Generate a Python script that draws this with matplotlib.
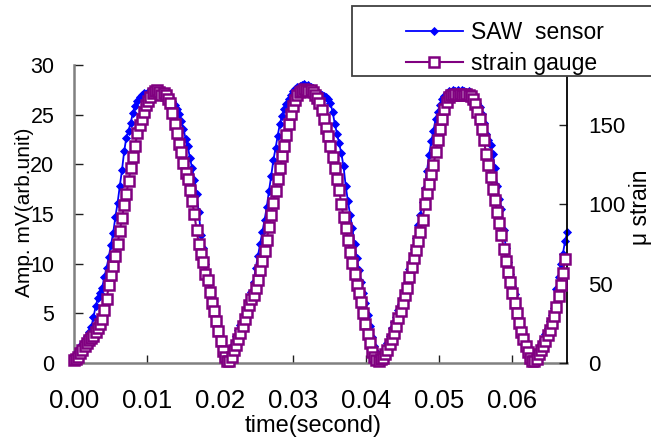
import numpy as np
import matplotlib
matplotlib.use("Agg")
import matplotlib.pyplot as plt
from matplotlib.patches import Rectangle
from matplotlib.ticker import FormatStrFormatter

plt.rcParams['font.family'] = ['Liberation Sans', 'DejaVu Sans']

# ---------------- data ----------------
dt = 0.0003      # s, sampling step of both series

saw_mv = [
    0.4, 0.8, 1.2, 1.6, 1.9, 2.3, 2.7, 3.1, 3.6, 4.6,
    5.7, 6.5, 7.0, 7.6, 8.7, 9.6, 10.7, 11.9, 13.1, 14.7,
    16.1, 17.8, 19.4, 21.3, 22.7, 23.4, 24.2, 25.2, 25.9, 26.4,
    26.8, 27.0, 27.2, 27.1, 27.3, 27.2, 27.4, 27.2, 27.3, 27.1,
    27.3, 27.2, 27.1, 26.9, 26.8, 26.4, 26.0, 25.6, 25.1, 24.4,
    23.6, 22.6, 21.8, 20.6, 19.6, 18.4, 17.0, 15.2, 12.9, 11.6,
    10.0, 8.5, 7.3, 6.4, 5.4, 4.4, 3.5, 2.6, 1.8, 1.2,
    0.8, 0.6, 1.1, 1.9, 2.7, 3.3, 3.8, 4.2, 4.6, 5.3,
    6.3, 7.1, 8.2, 9.6, 10.8, 12.0, 13.2, 14.4, 15.7, 17.3,
    18.8, 20.4, 21.6, 22.9, 24.1, 24.9, 25.6, 26.1, 26.6, 27.0,
    27.4, 27.6, 27.8, 27.9, 28.0, 28.1, 27.9, 28.0, 27.8, 27.7,
    27.5, 27.3, 27.2, 27.0, 26.9, 26.8, 26.6, 26.2, 25.3, 24.1,
    23.1, 22.1, 21.1, 19.8, 17.8, 16.3, 14.9, 13.6, 12.0, 10.6,
    9.4, 8.2, 7.0, 6.0, 4.8, 3.7, 2.6, 1.7, 1.1, 0.7,
    0.6, 0.9, 1.3, 2.0, 2.7, 3.5, 4.1, 4.6, 5.3, 5.9,
    6.6, 7.2, 8.2, 9.5, 10.4, 11.5, 12.6, 13.9, 14.9, 16.2,
    17.6, 19.3, 20.9, 22.3, 23.4, 24.6, 25.3, 26.0, 26.6, 26.9,
    27.2, 27.4, 27.3, 27.5, 27.4, 27.5, 27.3, 27.5, 27.4, 27.3,
    27.4, 27.1, 26.9, 26.6, 26.2, 25.8, 25.1, 24.2, 23.1, 22.4,
    21.9, 21.0, 19.6, 17.8, 16.5, 15.5, 13.4, 11.6, 10.2, 9.0,
    7.8, 6.9, 5.5, 4.5, 3.6, 2.9, 2.1, 1.6, 1.0, 0.6,
    0.5, 0.9, 1.3, 1.9, 2.4, 2.9, 3.5, 4.2, 4.8, 5.5,
    7.4, 8.7, 10.0, 11.0, 12.3, 13.2,
]

gauge_ustrain = [
    1.9, 2.5, 3.8, 6.3, 8.1, 10.7, 12.5, 14.4, 15.7, 16.9,
    19.4, 21.9, 24.4, 27.6, 33.2, 40.1, 48.9, 55.8, 61.4, 67.7,
    75.2, 83.3, 91.5, 99.6, 106.5, 114.7, 122.8, 129.7, 137.2, 144.8,
    150.4, 154.2, 158.5, 162.9, 165.4, 168.0, 170.5, 171.7, 172.3, 171.1,
    169.2, 170.5, 169.2, 166.7, 164.2, 157.9, 151.0, 144.8, 137.9, 132.9,
    126.0, 119.7, 115.9, 109.0, 102.1, 94.0, 84.0, 75.2, 68.9, 63.9,
    56.4, 52.6, 45.1, 37.6, 32.6, 26.3, 20.1, 13.8, 7.5, 3.8,
    1.3, 1.3, 3.8, 8.1, 11.3, 15.0, 18.8, 23.2, 27.6, 32.0,
    36.3, 40.1, 43.2, 47.6, 52.6, 58.9, 64.5, 70.8, 77.7, 85.9,
    93.4, 100.9, 108.4, 115.9, 122.8, 130.3, 137.2, 144.1, 151.0, 157.3,
    162.3, 166.1, 169.2, 171.1, 171.7, 173.0, 172.3, 171.7, 172.3, 171.1,
    169.2, 167.3, 164.2, 159.8, 154.2, 148.5, 142.9, 136.6, 129.7, 122.8,
    115.9, 109.0, 100.3, 92.1, 85.2, 77.7, 70.2, 63.3, 56.4, 49.5,
    43.9, 38.2, 31.3, 24.4, 18.2, 12.5, 6.9, 3.8, 1.9, 1.3,
    2.5, 3.1, 5.6, 8.1, 11.9, 15.0, 18.8, 23.2, 28.2, 32.6,
    37.6, 42.6, 47.6, 54.5, 60.8, 66.4, 71.4, 77.1, 82.7, 90.2,
    100.3, 107.2, 112.8, 119.1, 124.7, 132.9, 141.0, 147.9, 154.2, 160.4,
    164.8, 168.0, 169.2, 169.2, 169.8, 169.2, 169.8, 169.2, 169.2, 169.8,
    169.2, 168.6, 166.7, 163.6, 158.5, 154.2, 147.9, 140.4, 131.6, 124.7,
    117.2, 109.7, 102.8, 95.3, 88.4, 80.8, 72.1, 64.5, 57.7, 50.8,
    43.9, 37.6, 31.3, 25.1, 19.4, 15.0, 10.7, 6.9, 3.1, 1.3,
    1.3, 2.5, 5.6, 8.1, 10.7, 13.8, 17.5, 20.7, 25.1, 29.5,
    35.1, 42.0, 48.9, 57.0, 65.8,
]

x_ticks = [0.00, 0.01, 0.02, 0.03, 0.04, 0.05, 0.06]
left_ticks = [0, 5, 10, 15, 20, 25, 30]
right_ticks = [0, 50, 100, 150]
x_limits = (0.0, 0.0675)
left_limits = (0, 30)
right_limits = (0, 188)

series_names = ["SAW  sensor", "strain gauge"]
x_label = "time(second)"
left_label = "Amp. mV(arb.unit)"
right_label = "μ strain"

t_saw = np.arange(len(saw_mv)) * dt
t_gauge = np.arange(len(gauge_ustrain)) * dt

# ---------------- figure ----------------
W, H = 651, 437
fig = plt.figure(figsize=(W / 100, H / 100), dpi=100)
fig.patch.set_facecolor("white")

x0, x1 = 73.7, 567.3
y_top, y_bot = 65.0, 363.0
ax = fig.add_axes([x0 / W, 1 - y_bot / H, (x1 - x0) / W, (y_bot - y_top) / H])
ax2 = ax.twinx()

blue = "#0000FF"
purple = "#800080"

l1, = ax.plot(t_saw, saw_mv, color=blue, lw=1.3, marker="D", ms=4.2,
              mfc=blue, mec=blue, mew=0.6, clip_on=False, zorder=3)
l2, = ax2.plot(t_gauge, gauge_ustrain, color=purple, lw=1.5, marker="s",
               ms=7.8, mfc="white", mec=purple, mew=1.8, clip_on=False,
               zorder=3)

ax.set_xlim(*x_limits)
ax.set_ylim(*left_limits)
ax2.set_ylim(*right_limits)

ax.set_xticks(x_ticks)
ax.xaxis.set_major_formatter(FormatStrFormatter("%.2f"))
ax.set_yticks(left_ticks)
ax2.set_yticks(right_ticks)

# spines
ax.spines["top"].set_visible(False)
ax2.spines["top"].set_visible(False)
ax.spines["right"].set_visible(False)
ax2.spines["left"].set_visible(False)
ax2.spines["bottom"].set_visible(False)
ax.spines["left"].set_color("#808080")
ax.spines["left"].set_linewidth(1.8)
ax.spines["bottom"].set_color("#808080")
ax.spines["bottom"].set_linewidth(1.8)
ax2.spines["right"].set_color("black")
ax2.spines["right"].set_linewidth(1.3)

ax.tick_params(axis="y", direction="in", length=6.5, width=1.0,
               color="#202020", labelsize=15.5, pad=14)
ax.tick_params(axis="x", direction="in", length=6, width=1.0,
               color="#202020", labelsize=18.5, pad=19)
ax2.tick_params(axis="y", direction="in", length=5.5, width=1.0,
                color="#202020", labelsize=16, pad=15)

ax.set_xlabel(x_label, fontsize=17)
ax.xaxis.set_label_coords(0.485, -0.174)
ax.set_ylabel(left_label, fontsize=15)
ax.yaxis.set_label_coords(-0.08, 0.507)

fig.text(640 / W, 1 - 207.5 / H, right_label, rotation=90, fontsize=16.5,
         ha="center", va="center")

# legend box (extends past the right edge of the figure)
box = Rectangle((352 / W, 1 - 76 / H), (700 - 352) / W, (76 - 6) / H,
                transform=fig.transFigure, facecolor="white",
                edgecolor="#404040", lw=1.3, zorder=8)
fig.add_artist(box)

leg = fig.legend([l1, l2], series_names, loc="upper left",
                 bbox_to_anchor=(405.7 / W, 1 - 21.0 / H),
                 bbox_transform=fig.transFigure, frameon=False,
                 fontsize=16.5, handlelength=2.5, handletextpad=0.35,
                 labelspacing=0.36, borderpad=0, borderaxespad=0,
                 numpoints=1)
leg.set_zorder(9)

fig.savefig("out.png", dpi=100, facecolor="white")
